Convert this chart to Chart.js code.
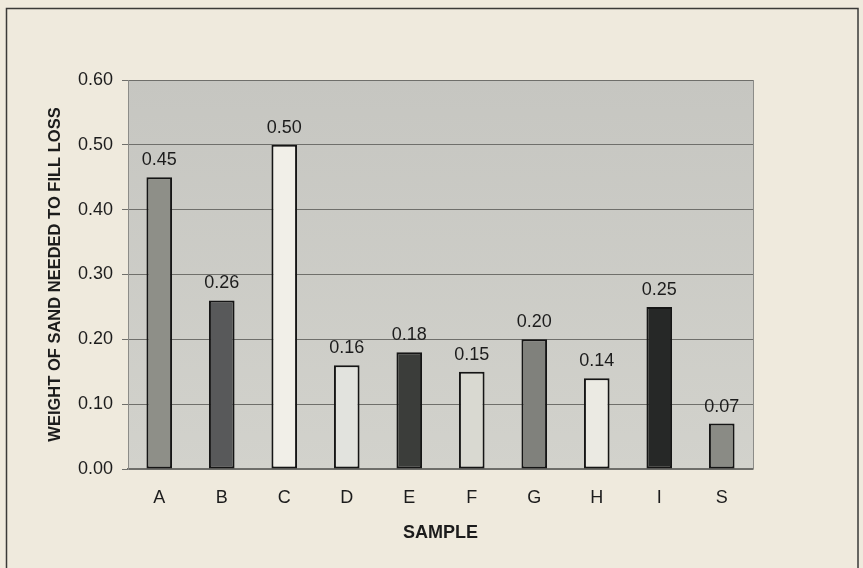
<html><head><script src="https://cdn.jsdelivr.net/npm/chart.js@4.4.3/dist/chart.umd.min.js"></script>
<style>
body { margin:0; background:#efeadd; }
#wrap { width:863px; height:568px; }
</style></head>
<body>
<div id="wrap"><canvas id="mychart"></canvas></div>
<script>
// samples and weights
const samples = ["A", "B", "C", "D", "E", "F", "G", "H", "I", "S"];
const weights = [0.45, 0.26, 0.50, 0.16, 0.18, 0.15, 0.20, 0.14, 0.25, 0.07];
const barColors = ["#8e8f88", "#58595a", "#f1efe8", "#e2e3de", "#3b3d3a", "#d9d9d1", "#80817c", "#ebeae3", "#262827", "#8a8b85"];
const yTicks = [0, 0.1, 0.2, 0.3, 0.4, 0.5, 0.6];

const font = "'Liberation Sans', Arial, sans-serif";

// frame, plot background and value labels
const deco = {
  id: "deco",
  beforeDraw(chart) {
    const c = chart.ctx, a = chart.chartArea;
    c.save();
    c.fillStyle = "#efeadd";
    c.fillRect(0, 0, chart.width, chart.height);
    c.strokeStyle = "#3a3a38";
    c.lineWidth = 1.5;
    c.strokeRect(6.5, 8.5, 851.5, 600);
    const g = c.createLinearGradient(0, a.top, 0, a.bottom);
    g.addColorStop(0, "#c6c6c1");
    g.addColorStop(1, "#d2d2cc");
    c.fillStyle = g;
    c.fillRect(a.left, a.top, a.right - a.left, a.bottom - a.top);
    c.restore();
  },
  afterDatasetsDraw(chart) {
    const c = chart.ctx, a = chart.chartArea;
    c.save();
    c.strokeStyle = "#8c8c88";
    c.lineWidth = 1;
    c.beginPath();
    c.moveTo(a.right + 0.5, a.top);
    c.lineTo(a.right + 0.5, a.bottom);
    c.stroke();
    c.fillStyle = "#1c1c1c";
    c.font = "18px " + font;
    c.textAlign = "center";
    c.textBaseline = "alphabetic";
    chart.getDatasetMeta(0).data.forEach((bar, i) => {
      c.fillText(weights[i].toFixed(2), bar.x, bar.y - 12);
    });
    c.restore();
  }
};

new Chart(document.querySelector("#mychart"), {
  type: "bar",
  data: {
    labels: samples,
    datasets: [{
      data: weights,
      backgroundColor: barColors,
      borderColor: "#151515",
      borderWidth: 2,
      borderSkipped: false,
      barPercentage: 0.41,
      categoryPercentage: 1
    }]
  },
  options: {
    responsive: true,
    maintainAspectRatio: false,
    animation: false,
    layout: { padding: { left: 42, top: 80, right: 110, bottom: 20 } },
    plugins: { legend: { display: false }, tooltip: { enabled: false } },
    scales: {
      x: {
        grid: { display: false, drawTicks: false },
        border: { display: true, color: "#6e6e6a", width: 1.5 },
        ticks: { color: "#1c1c1c", font: { family: font, size: 18 }, padding: 18 },
        title: { display: true, text: "SAMPLE", color: "#1c1c1c", font: { family: font, size: 18, weight: "bold" }, padding: { top: 4 } },
        afterFit(s) { s.height = 79; }
      },
      y: {
        min: 0, max: 0.6,
        afterBuildTicks(s) { s.ticks = yTicks.map(v => ({ value: v })); },
        grid: { color: "#6f6f6b", lineWidth: 1, tickLength: 6, drawTicks: true },
        border: { display: true, color: "#8c8c88", width: 1 },
        ticks: { color: "#1c1c1c", font: { family: font, size: 18 }, padding: 9, callback: v => v.toFixed(2) },
        title: { display: true, text: "WEIGHT OF SAND NEEDED TO FILL LOSS", color: "#1c1c1c", font: { family: font, size: 16.5, weight: "bold" }, padding: { top: 4 } },
        afterFit(s) { s.width = 86; }
      }
    }
  },
  plugins: [deco]
});
</script>
</body></html>
